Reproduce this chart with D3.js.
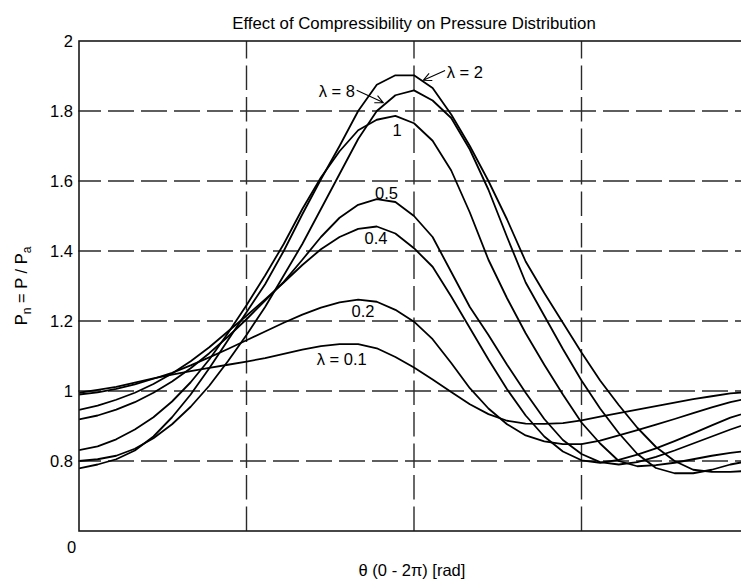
<!DOCTYPE html>
<html>
<head>
<meta charset="utf-8">
<script src="https://cdn.jsdelivr.net/npm/d3@7"></script>
<style>
  html, body { margin: 0; padding: 0; background: #fff; }
  svg { display: block; }
  text { font-family: "Liberation Sans", Arial, Helvetica, sans-serif; fill: #000; }
</style>
</head>
<body>
<svg id="chart" width="741" height="579"></svg>
<script>
// Angular position around the bearing, degrees (0 .. 360 = 0 .. 2π)
const thetaDeg = [0, 10, 20, 30, 40, 50, 60, 70, 80, 90, 100, 110, 120, 130, 140, 150, 160, 170, 180,
                  190, 200, 210, 220, 230, 240, 250, 260, 270, 280, 290, 300, 310, 320, 330, 340, 350, 360];

// Normalised pressure Pn = P / Pa for each bearing number λ
const pLambda01 = [0.995, 1.003, 1.012, 1.024, 1.036, 1.047, 1.057, 1.066, 1.075, 1.084, 1.094, 1.106, 1.118, 1.128, 1.134, 1.134, 1.122, 1.097, 1.067,
                   1.033, 0.997, 0.962, 0.934, 0.915, 0.907, 0.906, 0.908, 0.916, 0.927, 0.937, 0.947, 0.957, 0.967, 0.977, 0.985, 0.993, 0.997];
const pLambda02 = [0.990, 0.996, 1.006, 1.019, 1.035, 1.052, 1.073, 1.096, 1.120, 1.145, 1.170, 1.195, 1.218, 1.238, 1.253, 1.261, 1.255, 1.232, 1.198,
                   1.148, 1.080, 1.008, 0.950, 0.905, 0.873, 0.856, 0.848, 0.848, 0.858, 0.873, 0.888, 0.904, 0.920, 0.937, 0.953, 0.968, 0.980];
const pLambda04 = [0.946, 0.958, 0.975, 0.995, 1.020, 1.050, 1.085, 1.125, 1.170, 1.215, 1.262, 1.310, 1.360, 1.405, 1.440, 1.463, 1.470, 1.450, 1.408,
                   1.355, 1.270, 1.180, 1.090, 1.005, 0.930, 0.870, 0.827, 0.802, 0.795, 0.803, 0.818, 0.836, 0.857, 0.879, 0.902, 0.924, 0.940];
const pLambda05 = [0.919, 0.930, 0.947, 0.968, 0.995, 1.027, 1.065, 1.108, 1.155, 1.205, 1.258, 1.312, 1.375, 1.440, 1.495, 1.532, 1.548, 1.540, 1.500,
                   1.440, 1.340, 1.240, 1.160, 1.075, 0.995, 0.920, 0.860, 0.820, 0.797, 0.790, 0.797, 0.812, 0.830, 0.850, 0.870, 0.890, 0.908];
const pLambda1  = [0.831, 0.842, 0.862, 0.890, 0.925, 0.970, 1.025, 1.090, 1.165, 1.245, 1.330, 1.420, 1.520, 1.610, 1.685, 1.745, 1.775, 1.786, 1.765,
                   1.715, 1.630, 1.510, 1.375, 1.265, 1.165, 1.075, 0.990, 0.910, 0.850, 0.800, 0.785, 0.788, 0.795, 0.805, 0.815, 0.823, 0.830];
const pLambda2  = [0.779, 0.790, 0.805, 0.830, 0.870, 0.925, 0.990, 1.065, 1.145, 1.225, 1.305, 1.400, 1.505, 1.605, 1.700, 1.800, 1.875, 1.902, 1.902,
                   1.866, 1.790, 1.700, 1.600, 1.490, 1.370, 1.280, 1.195, 1.110, 1.030, 0.960, 0.895, 0.840, 0.800, 0.775, 0.769, 0.769, 0.772];
const pLambda8  = [0.800, 0.805, 0.815, 0.835, 0.865, 0.905, 0.955, 1.015, 1.085, 1.160, 1.240, 1.330, 1.420, 1.520, 1.620, 1.720, 1.800, 1.845, 1.859,
                   1.830, 1.780, 1.690, 1.575, 1.440, 1.310, 1.215, 1.120, 1.030, 0.950, 0.880, 0.820, 0.780, 0.765, 0.765, 0.775, 0.790, 0.800];

const seriesValues = [pLambda01, pLambda02, pLambda04, pLambda05, pLambda1, pLambda2, pLambda8];

// Axis ticks
const yTicks = [0.8, 1, 1.2, 1.4, 1.6, 1.8, 2];
const xGridTicks = [90, 180, 270];
const xTickLabels = ["0"];

// In-plot curve labels: [text, θ (deg), Pn]
const curveLabels = [
  ["λ = 0.1", 141.2, 1.074],
  ["0.2", 152.6, 1.211],
  ["0.4", 159.6, 1.420],
  ["0.5", 165.2, 1.550],
  ["1", 170.9, 1.729]
];
// Arrowed labels: [text, text θ, text Pn, anchor, tail θ, tail Pn, tip θ, tip Pn]
const arrowLabels = [
  ["λ = 8", 148.3, 1.840, "end", 149.2, 1.859, 163.5, 1.824],
  ["λ = 2", 197.6, 1.894, "start", 196.7, 1.916, 185.0, 1.888]
];

const titleText = "Effect of Compressibility on Pressure Distribution";
const xLabelText = "θ (0 - 2π) [rad]";

const svg = d3.select("#chart");
const plotLeft = 79, plotRight = 749, plotTop = 41, plotBottom = 531;

const x = d3.scaleLinear().domain([0, 360]).range([plotLeft, plotRight]);
const y = d3.scaleLinear().domain([0.6, 2]).range([plotBottom, plotTop]);

svg.append("defs").append("clipPath").attr("id", "plotClip")
  .append("rect").attr("x", plotLeft).attr("y", plotTop)
  .attr("width", plotRight - plotLeft).attr("height", plotBottom - plotTop);

// Dashed grid
const grid = svg.append("g").attr("stroke", "#2a2a2a").attr("stroke-width", 1.4).attr("fill", "none");
grid.selectAll("line.h").data(yTicks.filter(v => v < 2)).join("line")
  .attr("class", "h")
  .attr("x1", plotLeft - 4).attr("x2", plotRight)
  .attr("y1", d => y(d)).attr("y2", d => y(d))
  .attr("stroke-dasharray", "26,7");
grid.selectAll("line.v").data(xGridTicks).join("line")
  .attr("class", "v")
  .attr("x1", d => x(d)).attr("x2", d => x(d))
  .attr("y1", plotBottom).attr("y2", plotTop)
  .attr("stroke-dasharray", "24.5,7");
// cover grid overhang left of the axis
svg.append("rect").attr("x", plotLeft - 6).attr("y", plotTop)
  .attr("width", 5.3).attr("height", plotBottom - plotTop).attr("fill", "#fff");

// Curves
const line = d3.line().x((d, i) => x(thetaDeg[i])).y(d => y(d)).curve(d3.curveLinear);
svg.append("g").attr("clip-path", "url(#plotClip)")
  .selectAll("path").data(seriesValues).join("path")
  .attr("d", d => line(d))
  .attr("fill", "none").attr("stroke", "#000").attr("stroke-width", 1.8)
  .attr("stroke-linejoin", "round");

// Axes
const yAxis = d3.axisLeft(y).tickValues(yTicks).tickSize(0).tickPadding(6).tickFormat(d3.format("~g"));
const yG = svg.append("g").attr("transform", `translate(${plotLeft},0)`).call(yAxis);
yG.select(".domain").remove();
yG.selectAll("text").attr("font-size", "16.5px").attr("font-family", null).attr("fill", "#000");

const xAxis = d3.axisBottom(x).tickValues([0]).tickSize(0).tickPadding(10).tickFormat((d, i) => xTickLabels[i]);
const xG = svg.append("g").attr("transform", `translate(0,${plotBottom})`).call(xAxis);
xG.select(".domain").remove();
xG.selectAll("text").attr("font-size", "16.5px").attr("font-family", null).attr("fill", "#000").attr("dx", -8);

svg.append("rect").attr("x", plotLeft).attr("y", plotTop)
  .attr("width", plotRight - plotLeft).attr("height", plotBottom - plotTop)
  .attr("fill", "none").attr("stroke", "#1a1a1a").attr("stroke-width", 1.6);

// Labels on curves
svg.append("g").selectAll("text").data(curveLabels).join("text")
  .attr("x", d => x(d[1])).attr("y", d => y(d[2]))
  .attr("text-anchor", "middle").attr("font-size", "16.5px")
  .text(d => d[0]);

const ann = svg.append("g");
arrowLabels.forEach(a => {
  ann.append("text").attr("x", x(a[1])).attr("y", y(a[2]))
    .attr("text-anchor", a[3]).attr("font-size", "16.5px").text(a[0]);
  const x0 = x(a[4]), y0 = y(a[5]), x1 = x(a[6]), y1 = y(a[7]);
  const ang = Math.atan2(y1 - y0, x1 - x0);
  const len = 9, spread = 0.45;
  ann.append("path")
    .attr("d", `M${x0},${y0}L${x1},${y1}` +
      `M${x1 - len * Math.cos(ang - spread)},${y1 - len * Math.sin(ang - spread)}L${x1},${y1}` +
      `L${x1 - len * Math.cos(ang + spread)},${y1 - len * Math.sin(ang + spread)}`)
    .attr("fill", "none").attr("stroke", "#000").attr("stroke-width", 1.1);
});

// Title and axis labels
svg.append("text").attr("x", (plotLeft + plotRight) / 2).attr("y", 29)
  .attr("text-anchor", "middle").attr("font-size", "16.8px").text(titleText);
svg.append("text").attr("x", 412).attr("y", 576)
  .attr("text-anchor", "middle").attr("font-size", "16.5px").text(xLabelText);

const yl = svg.append("text").attr("transform", `translate(27,${(plotTop + plotBottom) / 2}) rotate(-90)`)
  .attr("text-anchor", "middle").attr("font-size", "16.5px");
yl.append("tspan").text("P");
yl.append("tspan").attr("font-size", "12px").attr("dy", 4).text("n");
yl.append("tspan").attr("dy", -4).text(" = P / P");
yl.append("tspan").attr("font-size", "12px").attr("dy", 4).text("a");
</script>
</body>
</html>
